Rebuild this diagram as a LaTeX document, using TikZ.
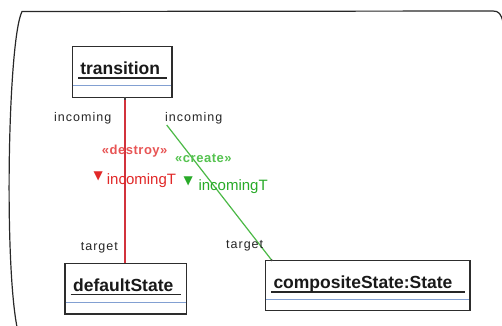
\documentclass[tikz,border=0pt]{standalone}
\usepackage{fontspec}
\setmainfont{Liberation Sans}
\newfontfamily\rolefont[LetterSpace=8]{Liberation Sans}
\newfontfamily\stereofont[LetterSpace=4]{Liberation Sans}
\newfontfamily\symfont{DejaVu Sans}
\usetikzlibrary{calc}

\definecolor{framegray}{RGB}{40,40,40}
\definecolor{boxline}{RGB}{45,45,45}
\definecolor{sepblue}{RGB}{130,160,210}
\definecolor{linkred}{RGB}{210,50,60}
\definecolor{destroytext}{RGB}{225,40,40}
\definecolor{destroylight}{RGB}{232,85,85}
\definecolor{creategreen}{RGB}{75,185,70}
\definecolor{createtext}{RGB}{40,170,40}
\definecolor{createlight}{RGB}{85,195,80}

\tikzset{
  frame/.style={draw=framegray, line width=1.2pt},
  umlbox/.style={draw=boxline, line width=1.3pt, fill=white, rectangle,
    anchor=north west, inner sep=0pt, outer sep=0pt},
  boxtitle/.style={anchor=base west, inner sep=0pt,
    font=\bfseries\fontsize{17.5}{20}\selectfont, text=black!90},
  titleline/.style={draw=black!85, line width=1.6pt},
  sepline/.style={draw=sepblue, line width=0.9pt},
  role/.style={anchor=base west, inner sep=0pt,
    font=\rolefont\fontsize{12.5}{14}\selectfont, text=black!85},
  stereo/.style={anchor=base west, inner sep=0pt,
    font=\stereofont\bfseries\fontsize{13}{15}\selectfont},
  endname/.style={anchor=base west, inner sep=0pt,
    font=\fontsize{15}{17}\selectfont},
  marker/.style={inner sep=0pt, font=\symfont\fontsize{12}{13}\selectfont},
  destroylink/.style={draw=linkred, line width=1.7pt},
  createlink/.style={draw=creategreen, line width=1.2pt},
  endtip/.style={fill=black!75, draw=none}
}

\begin{document}
\begin{tikzpicture}[x=1pt,y=-1pt]
  \useasboundingbox (0,0) rectangle (502,325);
  \fill[white] (0,0) rectangle (502,325);

  % enclosing package frame, open at the bottom and right
  \draw[frame] (17,327) .. controls (4,260) and (8,40) .. (22,11.5)
    -- (493,11) .. controls (499,11) and (501,14) .. (503,22);

  % classes
  \node[umlbox, minimum width=99.3pt, minimum height=50.6pt] (tr) at (72.7,46.7) {};
  \node[umlbox, minimum width=121.7pt, minimum height=50.7pt] (ds) at (65,263.3) {};
  \node[umlbox, minimum width=204.3pt, minimum height=50pt] (cs) at (265.7,260.7) {};

  \foreach \b in {tr,ds,cs}{
    \draw[titleline] ($(\b.north west)+(5.5,31)$) -- ($(\b.north east)+(-5.5,31)$);
    \draw[sepline] ($(\b.north west)+(0.6,38.7)$) -- ($(\b.north east)+(-0.6,38.7)$);
  }
  \node[boxtitle] (trT) at ($(tr.north west)+(7.4,27.4)$) {transition};
  \node[boxtitle] (dsT) at ($(ds.north west)+(8,28.2)$) {defaultState};
  \node[boxtitle] (csT) at ($(cs.north west)+(7.6,27.8)$) {compositeState:State};

  % destroyed link
  \coordinate (rtop) at (125,97.3);
  \draw[destroylink] (rtop) -- (rtop |- ds.north);
  \fill[endtip] ($(rtop)+(-1.2,0)$) rectangle ($(rtop)+(1.2,2.8)$);

  % created link
  \coordinate (gtop) at (166.7,125);
  \coordinate (gend) at ($(cs.north west)+(6,-0.5)$);
  \draw[createlink] (gtop) -- (gend);
  \fill[endtip] (gend) circle (1.1pt);

  % role names
  \node[role] (inL) at (54,121.7) {incoming};
  \node[role] (inR) at (165,121.7) {incoming};
  \node[role] (tgL) at (80.7,250.7) {target};
  \node[role] (tgR) at (226,248.3) {target};

  % stereotypes and link end names
  \node[stereo, text=destroylight] (stD) at (101.7,154.7) {«destroy»};
  \node[stereo, text=createlight] (stC) at (175,162.3) {«create»};
  \node[marker, text=destroytext] (triD) at (98.3,176.5) {▼};
  \node[marker, text=createtext] (triC) at (188.3,181) {▼};
  \node[endname, text=destroytext] (enD) at (106.7,184.7) {incomingT};
  \node[endname, text=createtext] (enC) at (198.3,190) {incomingT};
\end{tikzpicture}
\end{document}
